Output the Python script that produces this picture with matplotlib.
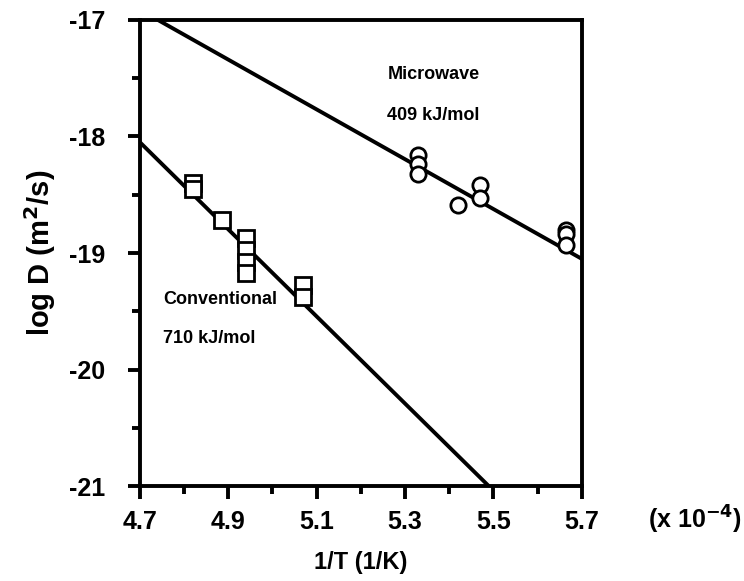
import numpy as np
import matplotlib.pyplot as plt
from matplotlib.ticker import MultipleLocator

plt.rcParams['font.family'] = ['Liberation Sans', 'DejaVu Sans']
plt.rcParams['axes.unicode_minus'] = False

# conventional (squares), 1/T in units of 1e-4 1/K
conv_x = [4.82, 4.82, 4.885, 4.94, 4.94, 4.94, 4.94, 5.07, 5.07]
conv_y = [-18.40, -18.45, -18.72, -18.87, -18.97, -19.08, -19.17, -19.27, -19.38]

# microwave (circles)
micro_x = [5.33, 5.33, 5.33, 5.42, 5.47, 5.47, 5.665, 5.665, 5.665]
micro_y = [-18.16, -18.24, -18.32, -18.59, -18.42, -18.53, -18.80, -18.84, -18.93]

# fitted lines (end points)
conv_line_x = [4.70, 5.49]
conv_line_y = [-18.05, -21.00]
micro_line_x = [4.74, 5.70]
micro_line_y = [-17.00, -19.05]

fig = plt.figure(figsize=(7.44, 5.81), dpi=100)
ax = fig.add_axes([0.188, 0.163, 0.594, 0.803])

ax.plot(conv_line_x, conv_line_y, color='black', lw=2.8, solid_capstyle='butt')
ax.plot(micro_line_x, micro_line_y, color='black', lw=2.8, solid_capstyle='butt')

ax.plot(conv_x, conv_y, ls='none', marker='s', ms=11, mfc='white', mec='black', mew=2)
ax.plot(micro_x, micro_y, ls='none', marker='o', ms=11, mfc='white', mec='black', mew=2)

ax.set_xlim(4.7, 5.7)
ax.set_ylim(-21, -17)
ax.set_xticks([4.7, 4.9, 5.1, 5.3, 5.5, 5.7])
ax.set_xticklabels(['4.7', '4.9', '5.1', '5.3', '5.5', '5.7'])
ax.set_yticks([-21, -20, -19, -18, -17])
ax.set_yticklabels(['-21', '-20', '-19', '-18', '-17'])
ax.xaxis.set_minor_locator(MultipleLocator(0.1))
ax.yaxis.set_minor_locator(MultipleLocator(0.5))

for s in ax.spines.values():
    s.set_linewidth(2.8)
ax.tick_params(which='major', direction='out', length=9, width=2.8,
               labelsize=18, pad=8)
ax.tick_params(axis='y', which='major', pad=16)
ax.tick_params(which='minor', direction='out', length=6, width=2.8)
for lab in ax.get_xticklabels() + ax.get_yticklabels():
    lab.set_fontweight('bold')

ax.set_xlabel('1/T (1/K)', fontsize=17, fontweight='bold', labelpad=12)
ax.set_ylabel('log D (m$^\\mathbf{2}$/s)', fontsize=21, fontweight='bold', labelpad=8)

ax.text(5.26, -17.47, 'Microwave', fontsize=13, fontweight='semibold', va='center')
ax.text(5.26, -17.82, '409 kJ/mol', fontsize=13, fontweight='semibold', va='center')
ax.text(4.752, -19.40, 'Conventional', fontsize=13, fontweight='semibold', va='center')
ax.text(4.752, -19.73, '710 kJ/mol', fontsize=13, fontweight='semibold', va='center')

fig.text(0.997, 0.09, '(x 10$^{\\mathbf{-4}}$)', fontsize=18, fontweight='bold',
         ha='right', va='baseline')

fig.savefig('out.png', dpi=100, facecolor='white')
